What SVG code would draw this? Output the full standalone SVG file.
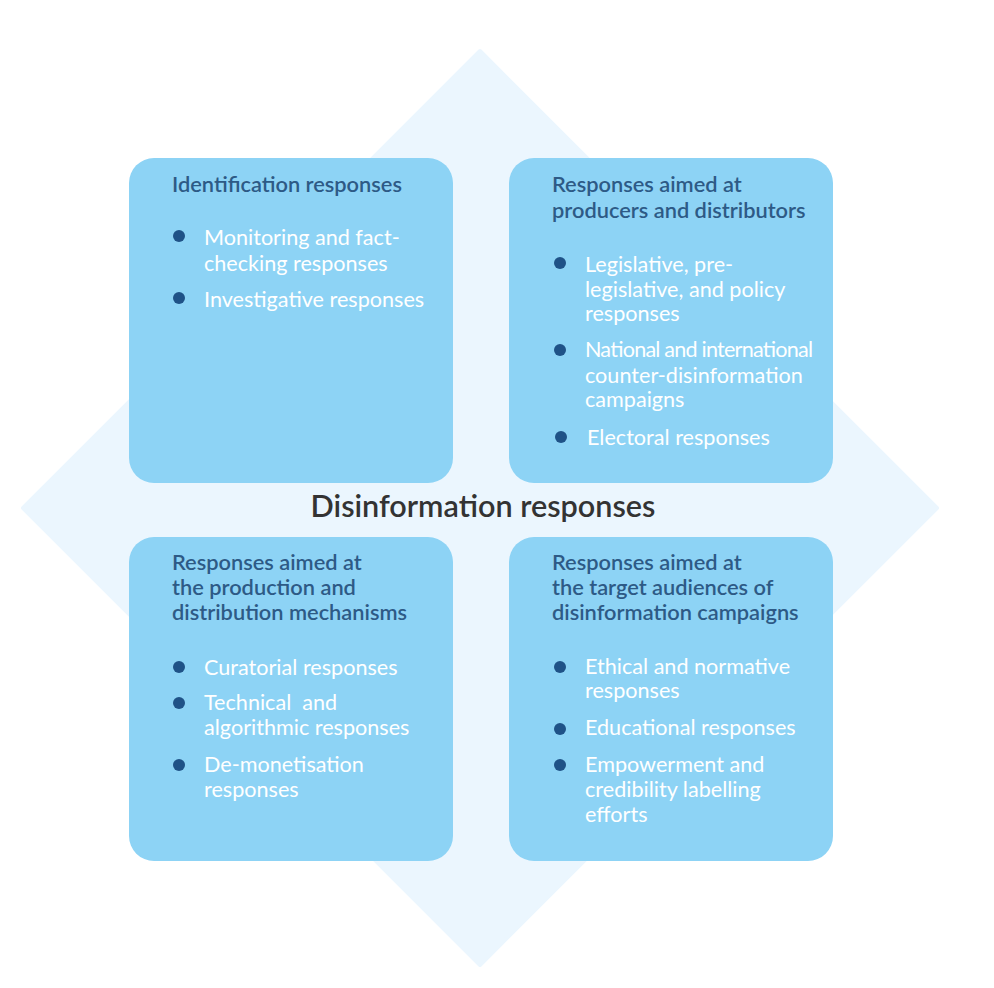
<svg xmlns="http://www.w3.org/2000/svg" width="994" height="988" viewBox="0 0 994 988">
<style>
.box{fill:#8DD3F5;}
.ttl{font-family:Lato,"Open Sans","Liberation Sans",sans-serif;font-size:21.8px;font-weight:600;fill:#2D5A86;}
.itm{font-family:Lato,"Open Sans","Liberation Sans",sans-serif;font-size:21.6px;font-weight:400;fill:#FFFFFF;}
.dot{fill:#1F5287;}
.ctr{font-family:Lato,"Open Sans","Liberation Sans",sans-serif;font-size:30.6px;font-weight:600;fill:#333333;}
</style>
<rect x="0" y="0" width="994" height="988" fill="#FFFFFF"/>
<path d="M480,51 L937,508 L480,965 L23,508 Z" fill="#EBF6FE" stroke="#EBF6FE" stroke-width="4" stroke-linejoin="round"/>
<g id="connectors"></g>
<g id="node-identification">
<rect class="box" x="129" y="158" width="324" height="325" rx="25"/>
<text class="ttl" x="172" y="192">Identification responses</text>
<circle class="dot" cx="179" cy="236" r="6"/>
<text class="itm" x="204" y="245">Monitoring and fact-</text>
<text class="itm" x="204" y="271">checking responses</text>
<circle class="dot" cx="179" cy="298" r="6"/>
<text class="itm" x="204" y="307">Investigative responses</text>
</g>
<g id="node-producers">
<rect class="box" x="509" y="158" width="324" height="325" rx="25"/>
<text class="ttl" x="552" y="192">Responses aimed at</text>
<text class="ttl" x="552" y="218">producers and distributors</text>
<circle class="dot" cx="560" cy="263" r="6"/>
<text class="itm" x="585" y="272">Legislative, pre-</text>
<text class="itm" x="585" y="297">legislative, and policy</text>
<text class="itm" x="585" y="321">responses</text>
<circle class="dot" cx="560" cy="350" r="6"/>
<text class="itm" x="585" y="357" textLength="228" lengthAdjust="spacing">National and international</text>
<text class="itm" x="585" y="383">counter-disinformation</text>
<text class="itm" x="585" y="407">campaigns</text>
<circle class="dot" cx="561" cy="437" r="6"/>
<text class="itm" x="587" y="445">Electoral responses</text>
</g>
<g id="node-mechanisms">
<rect class="box" x="129" y="537" width="324" height="324" rx="25"/>
<text class="ttl" x="172" y="570">Responses aimed at</text>
<text class="ttl" x="172" y="595">the production and</text>
<text class="ttl" x="172" y="620">distribution mechanisms</text>
<circle class="dot" cx="179" cy="667" r="6"/>
<text class="itm" x="204" y="675">Curatorial responses</text>
<circle class="dot" cx="179" cy="703" r="6"/>
<text class="itm" x="204" y="710" xml:space="preserve">Technical  and</text>
<text class="itm" x="204" y="735">algorithmic responses</text>
<circle class="dot" cx="179" cy="765" r="6"/>
<text class="itm" x="204" y="772">De-monetisation</text>
<text class="itm" x="204" y="797">responses</text>
</g>
<g id="node-audiences">
<rect class="box" x="509" y="537" width="324" height="324" rx="25"/>
<text class="ttl" x="552" y="570">Responses aimed at</text>
<text class="ttl" x="552" y="595">the target audiences of</text>
<text class="ttl" x="552" y="620">disinformation campaigns</text>
<circle class="dot" cx="560" cy="667" r="6"/>
<text class="itm" x="585" y="674">Ethical and normative</text>
<text class="itm" x="585" y="698">responses</text>
<circle class="dot" cx="560" cy="729" r="6"/>
<text class="itm" x="585" y="735">Educational responses</text>
<circle class="dot" cx="560" cy="765" r="6"/>
<text class="itm" x="585" y="772">Empowerment and</text>
<text class="itm" x="585" y="797">credibility labelling</text>
<text class="itm" x="585" y="822">efforts</text>
</g>
<g id="node-center">
<text class="ctr" x="483" y="517" text-anchor="middle">Disinformation responses</text>
</g>
</svg>
